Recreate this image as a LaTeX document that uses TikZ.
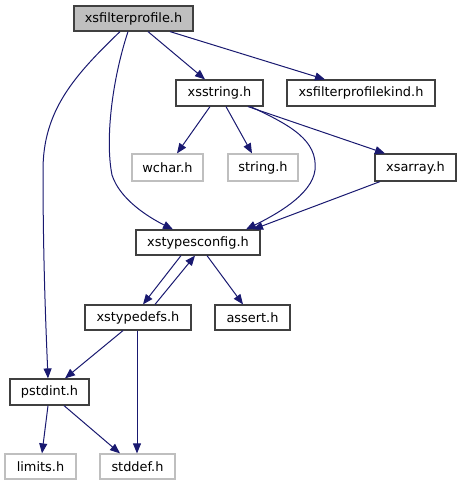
\documentclass[tikz,border=0pt]{standalone}
\usepackage{fontspec}
\setmainfont{DejaVu Sans}
\usetikzlibrary{arrows.meta}
\definecolor{edgec}{HTML}{191970}
\definecolor{boxc}{HTML}{404040}
\definecolor{extc}{HTML}{BFBFBF}
\begin{document}
\begin{tikzpicture}[x=1pt,y=-1pt,
  box/.style={draw=boxc, line width=1.2pt, inner sep=0pt, font=\fontsize{12.9}{15}\selectfont, text=black},
  ext/.style={box, draw=extc},
  root/.style={box, fill=extc},
  dep/.style={draw=edgec, line width=1pt, -{Triangle[length=10pt,width=8pt]}, fill=none},
]
\useasboundingbox (0,0) rectangle (461,485);
\node[root, minimum width=119pt, minimum height=25pt] (xf) at (133.5,18.5) {xsfilterprofile.h};
\node[box, minimum width=87pt, minimum height=26pt] (xs) at (219.5,93) {xsstring.h};
\node[box, minimum width=148pt, minimum height=26pt] (xk) at (361,93) {xsfilterprofilekind.h};
\node[ext, minimum width=71pt, minimum height=27pt] (wc) at (167.5,167.5) {wchar.h};
\node[ext, minimum width=70pt, minimum height=27pt] (st) at (263,167.5) {string.h};
\node[box, minimum width=81pt, minimum height=27pt] (xa) at (415.5,167.5) {xsarray.h};
\node[box, minimum width=124pt, minimum height=25pt] (xc) at (198,242.5) {xstypesconfig.h};
\node[box, minimum width=106pt, minimum height=25pt] (xd) at (138,317.5) {xstypedefs.h};
\node[box, minimum width=75pt, minimum height=25pt] (as) at (252.5,317.5) {assert.h};
\node[box, minimum width=79pt, minimum height=26pt] (ps) at (49.5,392) {pstdint.h};
\node[ext, minimum width=71pt, minimum height=25pt] (li) at (40.5,466.5) {limits.h};
\node[ext, minimum width=75pt, minimum height=25pt] (sd) at (137.5,466.5) {stddef.h};

% root edges
\draw[dep] ([xshift=-13.5pt]xf.south) .. controls (75,75) and (43,110) .. (43,170)
  .. controls (43,260) and (46,330) .. ([xshift=-1.5pt]ps.north);
\draw[dep] ([xshift=-5.5pt]xf.south) .. controls (112,80) and (105,140) .. (112,175)
  .. controls (120,200) and (150,218) .. ([xshift=-25pt]xc.north);
\draw[dep] ([xshift=14.5pt]xf.south) -- ([xshift=-14.5pt]xs.north);
\draw[dep] ([xshift=36.5pt]xf.south) -- ([xshift=-36pt]xk.north);
% xsstring edges
\draw[dep] ([xshift=-9.5pt]xs.south) -- ([xshift=9.5pt]wc.north);
\draw[dep] ([xshift=6.5pt]xs.south) -- ([xshift=-11pt]st.north);
\draw[dep] ([xshift=28.5pt]xs.south) -- ([xshift=-30.5pt]xa.north);
\draw[dep] ([xshift=31pt]xs.south) .. controls (290,125) and (318,140) .. (315,170)
  .. controls (312,195) and (275,215) .. ([xshift=48pt]xc.north);
\draw[dep] ([xshift=-35.5pt]xa.south) -- ([xshift=55pt]xc.north);
% xstypesconfig edges
\draw[dep] ([xshift=-17pt]xc.south) -- ([xshift=5pt]xd.north);
\draw[dep] ([xshift=17pt]xd.north) -- ([xshift=-3pt]xc.south);
\draw[dep] ([xshift=9pt]xc.south) -- ([xshift=-9.5pt]as.north);
% xstypedefs edges
\draw[dep] ([xshift=-15pt]xd.south) -- ([xshift=15.5pt]ps.north);
\draw[dep] ([xshift=-1pt]xd.south) -- ([xshift=-0.5pt]sd.north);
% pstdint edges
\draw[dep] ([xshift=-1.5pt]ps.south) -- ([xshift=1.5pt]li.north);
\draw[dep] ([xshift=14.5pt]ps.south) -- ([xshift=-17.5pt]sd.north);
\end{tikzpicture}
\end{document}
